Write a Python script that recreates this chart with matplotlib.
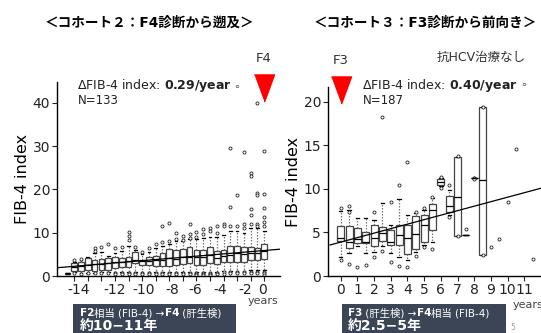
import matplotlib
matplotlib.use("Agg")
import matplotlib.pyplot as plt
from matplotlib.patches import Rectangle

plt.rcParams['font.family'] = ['DejaVu Sans', 'Noto Sans CJK JP']
plt.rcParams['axes.unicode_minus'] = False
plt.rcParams['mathtext.fontset'] = 'dejavusans'

W, H = 541, 333

# cohort 2: years before F4 diagnosis (0.5 year bins)
c2_pos = [-14.5, -14, -13.5, -13, -12.5, -12, -11.5, -11, -10.5, -10,
          -9.5, -9, -8.5, -8, -7.5, -7, -6.5, -6, -5.5, -5,
          -4.5, -4, -3.5, -3, -2.5, -2, -1.5, -1, -0.5, 0]
c2_q1 = [0.5, 1.2, 1.2, 1.4, 1.2, 1.4, 1.5, 1.8, 2.0, 2.0,
         2.9, 2.5, 2.5, 2.3, 2.3, 2.3, 2.6, 2.8, 2.9, 2.6,
         2.6, 2.9, 2.8, 3.3, 3.3, 3.3, 3.3, 3.7, 3.6, 3.9]
c2_med = [0.6, 2.0, 2.2, 2.5, 2.8, 2.7, 3.0, 3.2, 3.3, 3.5,
          3.8, 3.4, 3.5, 3.8, 3.8, 4.1, 4.0, 4.3, 4.5, 4.3,
          4.5, 4.9, 4.2, 4.6, 4.9, 5.3, 5.0, 5.3, 5.3, 5.7]
c2_q3 = [0.7, 3.0, 3.3, 4.1, 3.7, 3.9, 4.1, 4.5, 4.1, 4.5,
         5.6, 3.8, 4.5, 4.6, 5.3, 6.2, 6.0, 6.2, 6.7, 5.9,
         6.0, 6.7, 5.7, 6.0, 7.0, 7.0, 6.8, 6.7, 6.4, 7.4]
c2_lo = [0.5, 0.9, 0.8, 0.8, 0.8, 0.9, 1.0, 1.0, 1.0, 1.0,
         1.0, 1.0, 1.0, 1.0, 1.0, 1.0, 1.0, 1.0, 1.0, 1.0,
         1.0, 1.0, 1.0, 1.2, 1.2, 1.2, 1.2, 1.3, 1.3, 1.3]
c2_hi = [0.7, 3.3, 3.7, 4.4, 5.4, 5.5, 4.6, 5.4, 5.8, 7.0,
         6.0, 5.0, 5.6, 6.5, 7.0, 7.5, 8.0, 8.0, 8.5, 8.5,
         8.8, 9.0, 9.0, 9.5, 10.5, 10.5, 10.0, 11.0, 11.0, 10.5]
c2_out = [[], [3.6, 0.6], [4.0, 0.5], [0.6], [6.4, 5.8, 0.6], [6.6, 0.6],
          [7.4, 0.7], [6.4, 0.7, 0.5], [6.6, 0.7, 0.5], [10.2, 9.2, 8.3, 0.6, 0.4],
          [6.6, 0.7, 0.4], [5.6, 0.7, 0.4], [6.4, 0.7, 0.4], [7.5, 0.7, 0.4],
          [11.5, 7.8, 0.8, 0.5], [12.2, 8.0, 0.8, 0.5], [10.0, 8.6, 0.8, 0.5],
          [9.2, 8.4, 0.8, 0.5], [12.0, 9.8, 8.8, 0.8, 0.5], [10.2, 9.0, 0.8, 0.5, 0.3],
          [10.8, 9.8, 0.8, 0.5, 0.3], [11.0, 10.3, 0.8, 0.5, 0.3], [11.5, 10.0, 0.8, 0.5],
          [12.1, 11.5, 0.9, 0.5], [29.6, 15.9, 11.5, 1.0, 0.6], [18.8, 11.5, 1.0, 0.6],
          [28.7, 12.0, 11.0, 1.0, 0.6], [23.9, 23.1, 15.4, 14.2, 12.0, 1.0, 0.6],
          [39.9, 19.2, 18.6, 12.0, 11.5, 1.0, 0.6],
          [28.9, 18.9, 15.8, 13.7, 12.5, 11.5, 1.0, 0.6, 0.3]]
c2_fit_x = [-15.3, 1.2]
c2_fit_y = [1.9, 6.2]
c2_ticks = list(range(-14, 1))
# the year labels sit where the original put them, not exactly on the ticks
c2_labels = ['-14', '-12', '-10', '-8', '-6', '-4', '-2', '0']
c2_label_x = [-13.65, -11.0, -8.92, -6.8, -5.1, -3.26, -1.37, -0.12]

# cohort 3: years after F3 diagnosis
c3_pos = [0, 0.5, 1, 1.5, 2, 2.5, 3, 3.5, 4, 4.5, 5, 5.5, 6, 6.5, 7, 7.5, 8, 8.5]
c3_q1 = [4.0, 3.2, 3.8, 3.75, 3.4, 4.06, 3.6, 3.6, 2.5, 3.1, 3.9, 5.3, 10.5, 7.4, 4.6, 4.7, 11.2, 2.4]
c3_med = [4.4, 3.95, 4.3, 3.9, 4.4, 4.9, 3.95, 4.7, 4.4, 4.8, 5.9, 7.6, 10.8, 8.0, 9.1, 4.7, 11.2, 11.0]
c3_q3 = [5.7, 5.7, 5.5, 5.1, 5.8, 5.67, 5.3, 5.9, 5.8, 6.9, 7.0, 8.3, 11.1, 9.2, 13.7, 4.7, 11.2, 19.35]
c3_lo = [2.2, 2.6, 3.4, 2.6, 2.8, 3.4, 2.6, 2.2, 1.8, 2.7, 3.6, 3.95, 10.3, 7.0, 4.6, 4.7, 11.2, 2.4]
c3_hi = [7.5, 7.6, 6.7, 6.7, 6.4, 8.4, 5.9, 8.8, 7.0, 7.2, 7.6, 9.0, 11.3, 9.9, 13.7, 4.7, 11.2, 19.35]
c3_out = [[7.8, 1.8], [8.0, 7.4, 1.4], [1.0], [1.3], [7.4, 2.2], [18.2, 2.9],
          [8.5, 1.6], [10.5, 1.15], [13.1, 1.0], [7.3, 2.3], [7.8, 3.3], [9.1, 3.1],
          [11.4, 10.1], [10.5, 6.8], [13.75, 4.55], [5.4], [11.3, 11.25, 11.15], [19.4, 2.4]]
c3_single_x = [9, 9.5, 10, 10.5, 11.5]
c3_single_y = [3.3, 4.25, 8.5, 14.6, 1.95]
c3_fit_x = [-0.64, 12.0]
c3_fit_y = [3.56, 10.08]
c3_ticks = list(range(0, 12))


def stats(q1, med, q3, lo, hi, out):
    return [dict(q1=a, med=b, q3=c, whislo=d, whishi=e, fliers=f)
            for a, b, c, d, e, f in zip(q1, med, q3, lo, hi, out)]


box_kw = dict(patch_artist=True, widths=0.42, capwidths=0.2,
              boxprops=dict(facecolor='white', edgecolor='#444444', lw=0.9),
              medianprops=dict(color='black', lw=0.9),
              whiskerprops=dict(color='#777777', lw=0.9, linestyle=(0, (1.2, 1.2))),
              capprops=dict(color='black', lw=0.9),
              flierprops=dict(marker='o', ms=2.2, mfc='white', mec='#222222', mew=0.6))

fig = plt.figure(figsize=(W / 100, H / 100), dpi=100)
ax1 = fig.add_axes([57 / W, 57 / H, 223 / W, 194 / H])
ax2 = fig.add_axes([328 / W, 57 / H, 213 / W, 189 / H])

ax1.bxp(stats(c2_q1, c2_med, c2_q3, c2_lo, c2_hi, c2_out), positions=c2_pos, **box_kw)
ax1.plot(c2_fit_x, c2_fit_y, color='black', lw=0.9, zorder=4)
ax1.set_xlim(-15.27, 1.16)
ax1.set_ylim(0, 44.8)
ax1.xaxis.remove_overlapping_locs = False
ax1.set_xticks(c2_ticks)
ax1.set_xticklabels([''] * len(c2_ticks))
ax1.set_xticks(c2_label_x, c2_labels, minor=True)
ax1.tick_params(axis='x', which='minor', length=0, pad=5.0)
ax1.set_yticks([0, 10, 20, 30, 40])

ax2.bxp(stats(c3_q1, c3_med, c3_q3, c3_lo, c3_hi, c3_out), positions=c3_pos, **box_kw)
ax2.plot(c3_single_x, c3_single_y, 'o', ms=2.2, mfc='white', mec='#222222', mew=0.6)
ax2.plot(c3_fit_x, c3_fit_y, color='black', lw=0.9, zorder=4)
ax2.set_xlim(-0.76, 12.0)
ax2.set_ylim(0, 21.7)
ax2.set_xticks(c3_ticks)
ax2.set_xticklabels([str(t) for t in c3_ticks])
ax2.set_yticks([0, 5, 10, 15, 20])

for ax in (ax1, ax2):
    for s in ('top', 'right'):
        ax.spines[s].set_visible(False)
    for s in ('left', 'bottom'):
        ax.spines[s].set_linewidth(1.0)
    ax.tick_params(which='major', length=3.5, width=0.8, pad=1.5)
    ax.tick_params(which='both', labelsize=10, colors='#222222')
    ax.set_ylabel('FIB-4 index', fontsize=11.5, labelpad=2)

# red triangles marking diagnosis
tri = [(-0.74, 1), (0.74, 1), (0, -1)]
ax1.plot([0], [43.3], marker=tri, ms=19.5, color='#ff0000', clip_on=False, zorder=5)
ax2.plot([0], [21.4], marker=tri, ms=19.5, color='#ff0000', clip_on=False, zorder=5)


def ftext(x, y, s, **kw):
    return fig.text(x / W, 1 - y / H, s, **kw)


ftext(149, 23, '＜コホート２：F4診断から遡及＞', ha='center', va='center', fontsize=9.8, fontweight='bold')
ftext(425, 23, '＜コホート３：F3診断から前向き＞', ha='center', va='center', fontsize=9.8, fontweight='bold')
ftext(264, 58, 'F4', ha='center', va='center', fontsize=9.5, color='#333333')
ftext(341, 60, 'F3', ha='center', va='center', fontsize=9.5, color='#333333')
ftext(437, 57, '抗HCV治療なし', ha='left', va='center', fontsize=9, color='#333333')
ftext(77, 85, r'ΔFIB-4 index: $\mathbf{0.29/year}$', ha='left', va='center', fontsize=9, color='#222222')
ftext(78, 100, 'N=133', ha='left', va='center', fontsize=8.5, color='#222222')
ftext(362, 85, r'ΔFIB-4 index: $\mathbf{0.40/year}$', ha='left', va='center', fontsize=9, color='#222222')
ftext(363, 100, 'N=187', ha='left', va='center', fontsize=8.5, color='#222222')
ftext(237, 87, '∘', ha='center', va='center', fontsize=8, color='#555555')
ftext(524, 85, '∘', ha='center', va='center', fontsize=8, color='#555555')
ftext(248, 301, 'years', ha='left', va='center', fontsize=8, color='#444444')
ftext(513, 305, 'years', ha='left', va='center', fontsize=8, color='#444444')
ftext(510, 328, '5', ha='left', va='center', fontsize=5.5, color='#999999')

banner = '#3b4556'
fig.patches.append(Rectangle((73 / W, 0), 163 / W, 29 / H, transform=fig.transFigure,
                             facecolor=banner, edgecolor='none'))
fig.patches.append(Rectangle((342 / W, 0), 164 / W, 29 / H, transform=fig.transFigure,
                             facecolor=banner, edgecolor='none'))

renderer = fig.canvas.get_renderer()


def runs(x, y, parts, size):
    for s, bold in parts:
        t = ftext(x, y, s, ha='left', va='baseline', fontsize=size, color='white',
                  fontweight='bold' if bold else 'normal')
        x += t.get_window_extent(renderer).width


runs(80, 316, [('F2', True), ('相当 (FIB-4) →', False), ('F4', True), (' (肝生検)', False)], 7.5)
runs(348, 316, [('F3', True), (' (肝生検) →', False), ('F4', True), ('相当 (FIB-4)', False)], 7.5)
ftext(80, 330, '約10−11年', ha='left', va='baseline', fontsize=10, fontweight='bold', color='white')
ftext(348, 330, '約2.5−5年', ha='left', va='baseline', fontsize=10, fontweight='bold', color='white')

fig.savefig('out.png', dpi=100)
